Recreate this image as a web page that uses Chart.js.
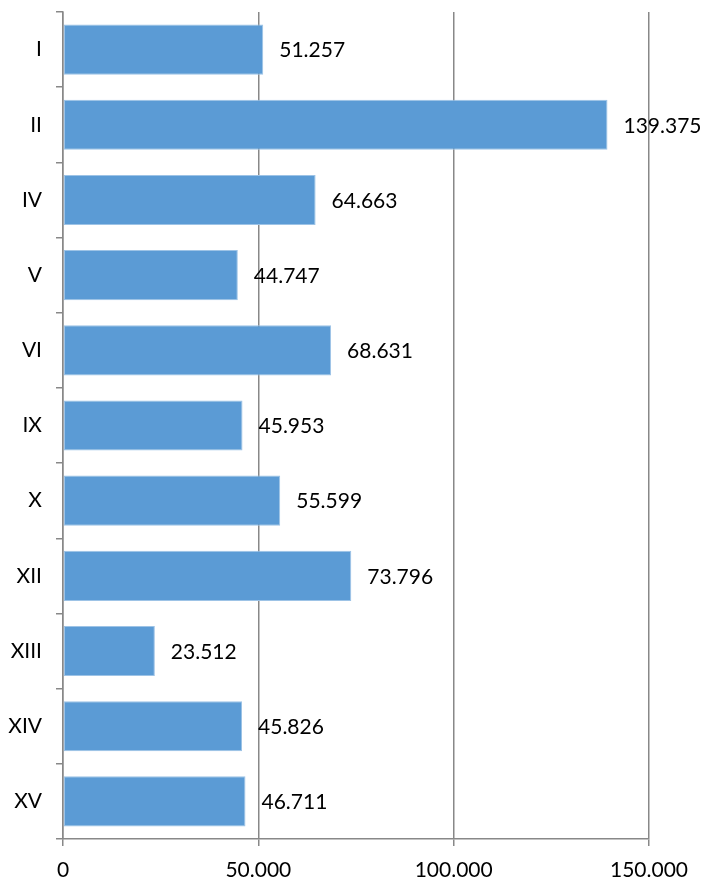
<!DOCTYPE html>
<html>
<head>
<meta charset="utf-8">
<script src="https://cdn.jsdelivr.net/npm/chart.js@4/dist/chart.umd.min.js"></script>
<style>
  html, body { margin: 0; padding: 0; background: #ffffff; }
  #wrap { width: 706px; height: 880px; position: relative; }
</style>
</head>
<body>
<div id="wrap"><canvas id="c" width="706" height="880"></canvas></div>
<script>
const categories = ["I", "II", "IV", "V", "VI", "IX", "X", "XII", "XIII", "XIV", "XV"];
const values = [51257, 139375, 64663, 44747, 68631, 45953, 55599, 73796, 23512, 45826, 46711];
const xTicks = [0, 50000, 100000, 150000];

const FONT = "Lato, 'Open Sans', sans-serif";
function fmt(v) {
  return String(Math.round(v)).replace(/\B(?=(\d{3})+(?!\d))/g, ".");
}

const labelPlugin = {
  id: "barLabels",
  afterDatasetsDraw(chart) {
    const ctx = chart.ctx;
    const meta = chart.getDatasetMeta(0);
    ctx.save();
    ctx.font = "21px " + FONT;
    ctx.fillStyle = "#000000";
    ctx.textAlign = "left";
    ctx.textBaseline = "middle";
    meta.data.forEach((bar, i) => {
      ctx.fillText(fmt(values[i]), bar.x + 16, bar.y + 1);
    });
    ctx.restore();
  }
};

new Chart(document.getElementById("c"), {
  type: "bar",
  data: {
    labels: categories,
    datasets: [{
      data: values,
      backgroundColor: "#5B9BD5",
      borderColor: "#9DC3E6",
      borderWidth: 1,
      borderSkipped: false,
      barPercentage: 0.667,
      categoryPercentage: 1.0
    }]
  },
  options: {
    indexAxis: "y",
    responsive: false,
    animation: false,
    devicePixelRatio: 1,
    layout: { padding: { top: 12, right: 57, left: 0, bottom: 0 } },
    plugins: {
      legend: { display: false },
      tooltip: { enabled: false }
    },
    scales: {
      x: {
        min: 0,
        max: 150000,
        afterBuildTicks(scale) { scale.ticks = xTicks.map(v => ({ value: v })); },
        afterFit(scale) { scale.height = 41; scale.paddingLeft = 0; scale.paddingRight = 0; },
        grid: {
          color: "#888888",
          lineWidth: 1.5,
          drawTicks: true,
          tickLength: 7,
          tickColor: "#888888"
        },
        border: { display: true, color: "#888888", width: 1.5 },
        ticks: {
          color: "#000000",
          font: { family: FONT, size: 21 },
          padding: 12,
          maxRotation: 0,
          callback: (v) => fmt(v)
        }
      },
      y: {
        afterFit(scale) { scale.width = 63; scale.paddingTop = 0; scale.paddingBottom = 0; },
        grid: {
          drawOnChartArea: false,
          drawTicks: true,
          tickLength: 7,
          color: "#888888",
          lineWidth: 1.5,
          offset: true
        },
        border: { display: true, color: "#888888", width: 1.5 },
        ticks: {
          color: "#000000",
          font: { family: FONT, size: 21 },
          padding: 14
        }
      }
    }
  },
  plugins: [labelPlugin]
});
</script>
</body>
</html>
